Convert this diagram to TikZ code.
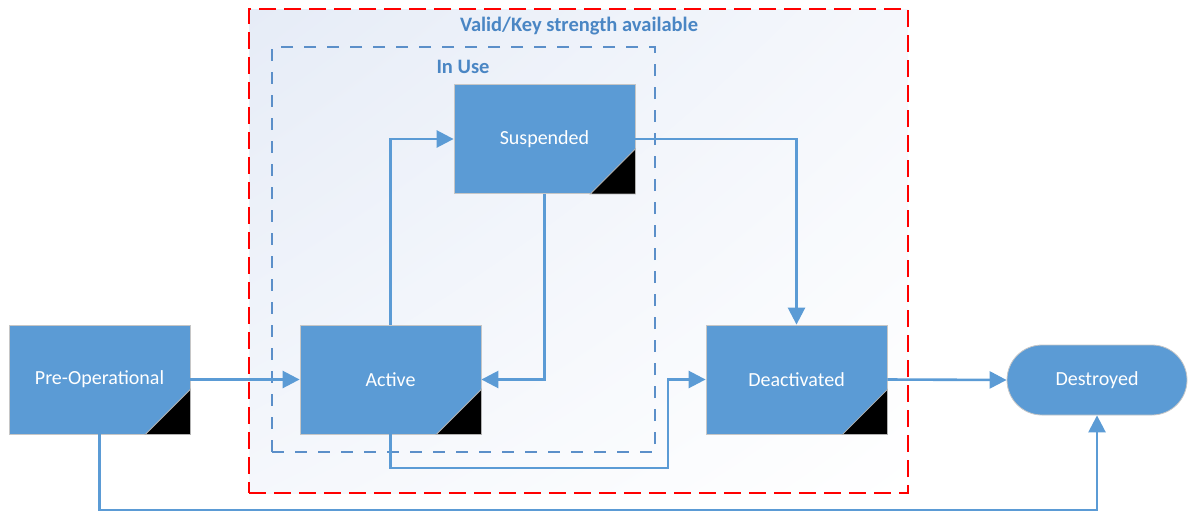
\documentclass[tikz,border=0pt]{standalone}
\usepackage{fontspec}
\setmainfont{Carlito}
\usetikzlibrary{arrows.meta,shapes.misc,positioning,shadings}
\definecolor{boxblue}{HTML}{5B9BD5}
\definecolor{titleblue}{HTML}{4A86C4}
\definecolor{dashblue}{HTML}{5B8FC9}
\definecolor{bgblue}{HTML}{E6ECF7}
\tikzset{
  state/.style={draw=gray!45, line width=0.8pt, fill=boxblue, text=white,
    minimum width=181pt, minimum height=109pt, inner sep=0pt,
    font=\fontsize{20}{23}\selectfont},
  endstate/.style={draw=gray!45, line width=0.8pt, fill=boxblue, text=white,
    rounded rectangle, minimum width=180pt, minimum height=70pt, inner sep=0pt,
    font=\fontsize{20}{23}\selectfont},
  arr/.style={draw=boxblue, line width=2.6pt, -{Triangle[length=17pt,width=17pt]}},
  corner/.style={fill=black, draw=gray!60, line width=0.8pt},
  grouptitle/.style={text=titleblue, font=\bfseries\fontsize{20.5}{23}\selectfont},
}
\begin{document}
\begin{tikzpicture}[x=1pt,y=-1pt]
\useasboundingbox (0,0) rectangle (1188,512);
% outer group background and frame
\shade[upper left=bgblue, lower right=white, upper right=white!60!bgblue, lower left=white!60!bgblue]
  (249,9) rectangle (908,493);
\node[draw=red, line width=2pt, dash pattern=on 17pt off 8pt, minimum width=659pt, minimum height=484pt, inner sep=0pt] (valid) at (578.5,251) {};
\node[grouptitle] (validt) at (579,26) {Valid/Key strength available};
% inner group
\node[draw=dashblue, line width=2pt, dash pattern=on 12pt off 11pt, minimum width=383pt, minimum height=405pt, inner sep=0pt] (inuse) at (463.5,249.5) {};
\node[grouptitle] (inuset) at (463,67) {In Use};
% states
\node[state] (P) at (99.5,379.5) {Pre-Operational};
\node[state] (A) at (390.5,379.5) {Active};
\node[state] (S) at (544.5,139) {Suspended};
\node[state] (D) at (796.5,379.5) {Deactivated};
\node[endstate] (X) at (1097,380) {Destroyed};
% corner triangles
\foreach \n in {P,A,S,D}{
  \path[corner] (\n.south east) -- ++(-45,0) -- ++(45,-45) -- cycle;
}
% connectors
\coordinate (j1) at (668,468);
\coordinate (j2) at (600,510);
\draw[arr] (P.east) -- (A.west);
\draw[arr] (A.north) |- (S.west);
\draw[arr] (S.south) |- (A.east);
\draw[arr] (S.east) -| (D.north);
\draw[arr] (A.south) |- (j1) |- (D.west);
\draw[arr] (D.east) -- (X.west);
\draw[arr] (P.south) |- (j2) -| (X.south);
\end{tikzpicture}
\end{document}
